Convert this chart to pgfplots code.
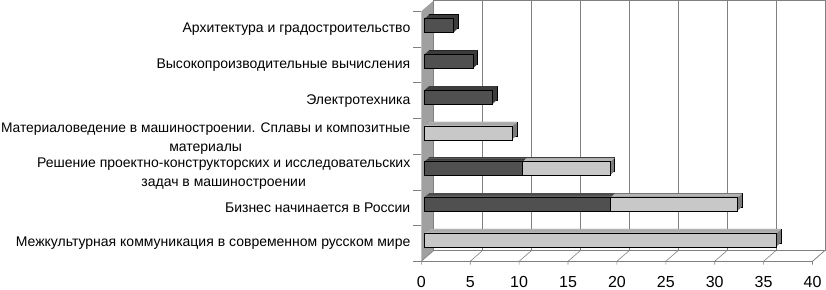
\documentclass[border=0pt]{standalone}
\usepackage{pgfplots}
\usepackage{pgfplotstable}
\pgfplotsset{compat=1.18}
\usepackage{fontspec}
\setmainfont{Liberation Sans}
\definecolor{darkfront}{HTML}{505050}
\definecolor{darkside}{HTML}{3C3C3C}
\definecolor{lightfront}{HTML}{C8C8C8}
\definecolor{lighttop}{HTML}{B4B4B4}
\definecolor{lightside}{HTML}{7C7C7C}
\definecolor{wallgray}{HTML}{A0A0A0}
\definecolor{gridgray}{HTML}{808080}

% idx 0 = bottom category
\pgfplotstableread{
idx dark light
0 0 36
1 19 13
2 10 9
3 0 9
4 7 0
5 5 0
6 3 0
}\datatable

\pgfkeys{/pgfplots/table/lightx/.style={x expr={\thisrow{light}==0 ? nan : \thisrow{dark}+\thisrow{light}}}}
\pgfkeys{/pgfplots/table/darkx/.style={x expr={\thisrow{dark}==0 ? nan : \thisrow{dark}}}}

% sweep layer: #1 bar shift, #2 xshift, #3 extra options
\newcommand{\sweep}[3]{%
 \addplot[xbar, bar width=14pt, bar shift=#1pt, xshift=#2pt, fill=lightside, draw=none, #3] table[y=idx, lightx]{\datatable};
 \addplot[xbar, bar width=14pt, bar shift=#1pt, xshift=#2pt, fill=darkside, draw=none, #3] table[y=idx, darkx]{\datatable};
}
% top strip: #1 bar shift, #2 xshift
\newcommand{\strip}[2]{%
 \addplot[xbar, bar width=0.9pt, bar shift=#1pt, xshift=#2pt, fill=lighttop, draw=none] table[y=idx, lightx]{\datatable};
 \addplot[xbar, bar width=0.9pt, bar shift=#1pt, xshift=#2pt, fill=darkside, draw=none] table[y=idx, darkx]{\datatable};
}

\begin{document}
\begin{tikzpicture}[x=1pt,y=1pt]
\useasboundingbox (0,0) rectangle (826,289);
% left wall
\fill[wallgray] (421.3,27.7) -- (433.7,38.5) -- (433.7,288.5) -- (421.3,277.7) -- cycle;
% back wall
\draw[gridgray, line width=0.7pt, fill=white] (433.7,38.5) rectangle (824.9,288.5);
\foreach \k in {1,...,7} \draw[gridgray, line width=0.7pt] ({433.7+48.9*\k},38.5) -- ({433.7+48.9*\k},288.5);
% floor
\draw[gridgray!60, line width=0.6pt] (812.5,27.7) -- (824.9,38.5);
\foreach \k in {0,...,8} \draw[gridgray, line width=0.6pt] ({421.3+48.9*\k},24.5) -- ({421.3+48.9*\k},27.7) -- ({433.7+48.9*\k},38.5);
\draw[gridgray, line width=0.7pt] (413.3,27.7) -- (812.5,27.7);

\begin{axis}[
  at={(421.3pt,27.7pt)}, anchor=south west,
  scale only axis, width=391.2pt, height=250pt,
  xmin=0, xmax=40, ymin=-0.5, ymax=6.5,
  axis line style={draw=none},
  clip=false,
  xtick={0,5,...,40},
  /pgf/number format/assume math mode=true,
  xticklabel style={font=\fontsize{16}{16}\selectfont, inner sep=0pt, text height=11.6pt, text depth=0pt, anchor=north, yshift=-14pt},
  ytick={0,...,6},
  yticklabels={{Межкультурная коммуникация в современном русском мире},
    {Бизнес начинается в России},
    {\rule{0pt}{13pt}Решение проектно-конструкторских и исследовательских\\задач в машиностроении},
    {\fontsize{13.8}{19.5}\selectfont\rule{0pt}{14pt}Материаловедение в машиностроении. Сплавы и композитные\\материалы},
    {Электротехника},
    {Высокопроизводительные вычисления},
    {Архитектура и градостроительство}},
  yticklabel style={font=\fontsize{14}{19.5}\selectfont, align=center, inner sep=0pt, anchor=east, xshift=-10.8pt},
  minor ytick={-0.5,0.5,...,6.5},
  ytick pos=left, xtick pos=bottom,
  major tick length=0pt, minor tick length=8pt,
  tick align=outside,
  every minor tick/.append style={gridgray, line width=0.7pt},
]
% back layer with outline
\sweep{7.5}{7.5}{draw=black, line width=0.5pt}
\sweep{6.7}{6.6}{}
\sweep{5.9}{5.7}{}
\sweep{5.1}{4.8}{}
\sweep{4.3}{3.9}{}
% top faces
\strip{13.95}{7.5}
\strip{13.15}{6.6}
\strip{12.35}{5.7}
\strip{11.55}{4.8}
\strip{10.75}{3.9}
% front faces
\addplot[xbar, bar width=14pt, bar shift=3.5pt, xshift=3pt, fill=lightfront, draw=black, line width=0.6pt] table[y=idx, lightx]{\datatable};
\addplot[xbar, bar width=14pt, bar shift=3.5pt, xshift=3pt, fill=darkfront, draw=black, line width=0.6pt] table[y=idx, darkx]{\datatable};
\end{axis}
\end{tikzpicture}
\end{document}
